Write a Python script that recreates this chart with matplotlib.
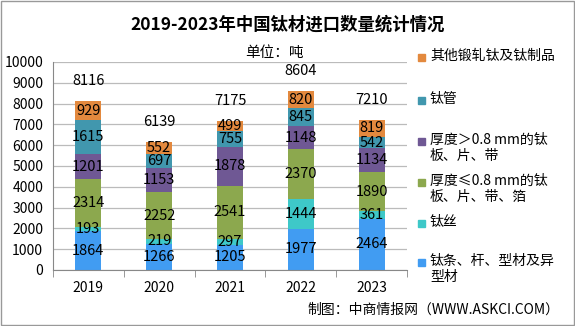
import matplotlib
matplotlib.use("Agg")
import matplotlib.pyplot as plt
from matplotlib.patches import Rectangle
import numpy as np

plt.rcParams['font.family'] = ['Noto Sans CJK SC', 'DejaVu Sans']

years = ["2019", "2020", "2021", "2022", "2023"]
series_names = [
    "钛条、杆、型材及异\n型材",
    "钛丝",
    "厚度≤0.8 mm的钛\n板、片、带、箔",
    "厚度＞0.8 mm的钛\n板、片、带",
    "钛管",
    "其他锻轧钛及钛制品",
]
bar_rod = [1864, 1266, 1205, 1977, 2464]
wire = [193, 219, 297, 1444, 361]
thin_plate = [2314, 2252, 2541, 2370, 1890]
thick_plate = [1201, 1153, 1878, 1148, 1134]
tube = [1615, 697, 755, 845, 542]
other = [929, 552, 499, 820, 819]
totals = [8116, 6139, 7175, 8604, 7210]

colors = ["#419CF2", "#3EC8C8", "#8CA84E", "#6F5894", "#4197AE", "#E3893E"]

fig = plt.figure(figsize=(5.75, 3.26), dpi=100)
ax = fig.add_axes([0.092, 0.172, 0.616, 0.638])

x = np.arange(len(years))
bottom = np.zeros(len(years))
stack = [bar_rod, wire, thin_plate, thick_plate, tube, other]
for vals, c in zip(stack, colors):
    vals = np.array(vals)
    ax.bar(x, vals, 0.37, bottom=bottom, color=c, zorder=2)
    for xi, b, v in zip(x, bottom, vals):
        ax.text(xi, b + v / 2, str(v), ha='center', va='center',
                fontsize=10.5, color='black', zorder=3)
    bottom += vals

for xi, t in zip(x, totals):
    ax.text(xi, t + 950, str(t), ha='center', va='center', fontsize=10.5)

ax.set_xlim(-0.5, len(years) - 0.5)
ax.set_ylim(0, 10000)
ax.set_yticks(range(0, 10001, 1000))
ax.tick_params(axis='y', length=0, labelsize=10, pad=7)
ax.set_xticks(x)
ax.set_xticklabels(years, fontsize=10)
ax.set_xticks(np.arange(-0.5, len(years)), minor=True)
ax.tick_params(axis='x', which='major', length=0, pad=8)
ax.tick_params(axis='x', which='minor', length=5, color='#888888')
ax.yaxis.grid(True, color='#BBBBBB', linewidth=0.9, zorder=0)
for s in ['top', 'right']:
    ax.spines[s].set_visible(False)
ax.spines['left'].set_color('#888888')
ax.spines['bottom'].set_color('#888888')

# legend drawn by hand, top entry first
leg_y = [57, 100, 141, 182, 223, 262]
for i, (name, c) in enumerate(zip(series_names[::-1], colors[::-1])):
    yy = 1 - leg_y[i] / 326
    fig.patches.append(Rectangle((418 / 575, yy - 3.5 / 326), 7 / 575, 7 / 326,
                                 transform=fig.transFigure, color=c))
    fig.text(430 / 575, yy + 8.5 / 326, name, ha='left', va='top',
             fontsize=10, linespacing=1.2)

fig.text(0.5, 1 - 25 / 326, "2019-2023年中国钛材进口数量统计情况",
         ha='center', va='center', fontsize=12.5, fontweight='bold')
fig.text(274 / 575, 1 - 53 / 326, "单位：吨", ha='center', va='center', fontsize=10.5)
fig.text(559 / 575, 1 - 310 / 326, "制图：中商情报网（WWW.ASKCI.COM）",
         ha='right', va='center', fontsize=10)

fig.patches.append(Rectangle((0.001, 0.002), 0.997, 0.995, transform=fig.transFigure,
                             fill=False, edgecolor='#999999', linewidth=1))

fig.savefig("out.png", dpi=100)
